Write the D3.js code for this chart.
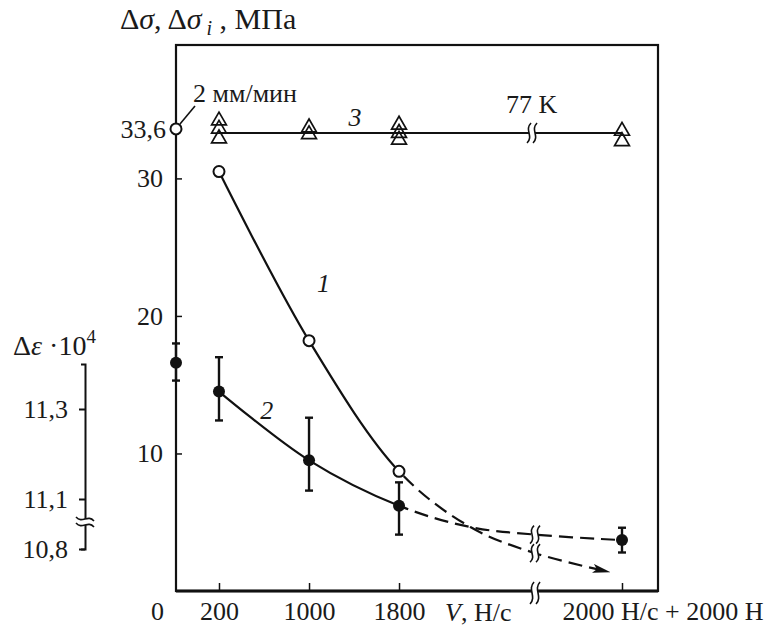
<!DOCTYPE html>
<html>
<head>
<meta charset="utf-8">
<script src="https://cdn.jsdelivr.net/npm/d3@7"></script>
<style>
  body { margin: 0; background: #fff; }
  svg, text, tspan { font-family: "Liberation Serif", serif; }
  text { font-size: 26px; fill: #1a1a1a; }
</style>
</head>
<body>
<svg></svg>
<script>
// x categories (slot 0..4), the last one is the "after break" condition
const slotLabels = ["0", "200", "1000", "1800", "2000 Н/с + 2000 Н"]
const breakSlot = 3.61

// curve 1 (open circles)
const c1Start = 33.6            // V = 0, 2 мм/мин
const c1Slots = [1, 2, 3]
const c1Values = [30.5, 18.2, 8.7]
const c1TrendSlots = [3.32, 3.61, 3.94]
const c1TrendValues = [4.65, 2.75, 1.4]

// curve 2 (filled circles + error bars)
const c2Slots = [0, 1, 2, 3, 4]
const c2Values = [16.6, 14.5, 9.5, 6.2, 3.7]
const c2Low = [15.3, 12.4, 7.3, 4.1, 2.8]
const c2High = [18.0, 17.0, 12.6, 7.9, 4.6]
const c2TrendSlots = [3.32, 3.61]
const c2TrendValues = [4.65, 4.1]

// curve 3 (triangles, 77 K)
const c3Slots = [1, 1, 1, 2, 2, 3, 3, 3, 4, 4]
const c3Values = [34.2, 33.6, 32.9, 33.7, 33.2, 33.9, 33.3, 32.8, 33.45, 32.7]
const c3Level = 33.3

const yTicks = [10, 20, 30]
const epsTicks = [10.8, 11.1, 11.3]

const width = 771,
      height = 627,
      padL = 176, padT = 45, padR = 658, padB = 591
const W = padR - padL

const svg = d3.select("svg")
  .attr("width", width)
  .attr("height", height)

const comma = d => String(d).replace(".", ",")

const x = d3.scaleLinear()
  .domain([0, 1, 2, 3, 4])
  .range([0, 0.0892, 0.276, 0.4627, 0.9253].map(f => padL + f * W))

const y = d3.scaleLinear()
  .domain([0, 39.7])
  .range([padB, padT])

// secondary axis for Δε·10^4, broken below 11,1
const y2 = d3.scaleLinear()
  .domain([10.8, 11.1, 11.4])
  .range([549, 499, 364])

const defs = svg.append("defs")
defs.append("clipPath").attr("id", "solidPart")
  .append("rect").attr("x", 0).attr("y", 0).attr("width", x(3) + 4).attr("height", height)
defs.append("clipPath").attr("id", "dashPart")
  .append("rect").attr("x", x(3) + 4).attr("y", 0).attr("width", width).attr("height", height)
defs.append("marker")
  .attr("id", "arrow")
  .attr("viewBox", "0 0 18 10")
  .attr("refX", 16).attr("refY", 5)
  .attr("markerWidth", 18).attr("markerHeight", 10)
  .attr("markerUnits", "userSpaceOnUse")
  .attr("orient", "auto")
  .append("path").attr("d", "M0,0.5L18,5L0,9.5L4,5Z").attr("fill", "#111")

// frame
svg.append("rect")
  .attr("x", padL).attr("y", padT)
  .attr("width", W).attr("height", padB - padT)
  .attr("fill", "none").attr("stroke", "#111").attr("stroke-width", 2.2)
svg.append("line")
  .attr("x1", padL).attr("x2", padR).attr("y1", padB).attr("y2", padB)
  .attr("stroke", "#111").attr("stroke-width", 3)

// left axis
const yAxis = d3.axisLeft(y).tickValues(yTicks).tickSize(-6).tickPadding(13)
const gy = svg.append("g").attr("transform", `translate(${padL},0)`).call(yAxis)
  .attr("font-family", null).attr("font-size", null)
gy.select(".domain").remove()
gy.selectAll("line").attr("stroke", "#111").attr("stroke-width", 1.5)

// bottom axis
const xAxis = d3.axisBottom(x).tickValues([0, 1, 2, 3, 4])
  .tickFormat(i => slotLabels[i]).tickSize(-8).tickPadding(11)
const gx = svg.append("g").attr("transform", `translate(0,${padB})`).call(xAxis)
  .attr("font-family", null).attr("font-size", null)
gx.select(".domain").remove()
gx.selectAll("line").attr("stroke", "#111").attr("stroke-width", 1.5)
gx.selectAll(".tick").filter(d => d === 0).select("line").remove()
gx.selectAll(".tick").filter(d => d === 0).select("text").attr("x", -19)
gx.selectAll(".tick").filter(d => d === 4).select("text").attr("text-anchor", "start").attr("x", -60)

svg.append("text").attr("x", 445).attr("y", padB + 30)
  .html('<tspan font-style="italic">V</tspan>, Н/с')

// secondary axis
const epsAxis = d3.axisLeft(y2).tickValues(epsTicks).tickSize(6).tickSizeOuter(4).tickPadding(11)
  .tickFormat(d => comma(d3.format(".1f")(d)))
const ge = svg.append("g").attr("transform", "translate(85,0)").call(epsAxis)
  .attr("font-family", null).attr("font-size", null)
ge.selectAll("path, line").attr("stroke", "#111").attr("stroke-width", 2)

svg.append("text").attr("x", 13).attr("y", 355).style("font-size", "28px")
  .html('Δ<tspan font-style="italic">ε</tspan> ·10<tspan font-size="19" dy="-12">4</tspan>')

svg.append("text").attr("x", 120).attr("y", 29).style("font-size", "30px")
  .html('Δ<tspan font-style="italic">σ</tspan>, Δ<tspan font-style="italic">σ</tspan><tspan font-style="italic" font-size="20" dy="6"> i</tspan><tspan dy="-6"> , МПа</tspan>')

// break marks: pair of S strokes across a horizontal line, or a vertical one
function breakMark(cx, cy, h, vertical) {
  const g = svg.append("g").attr("transform", `translate(${cx},${cy})` + (vertical ? " rotate(90)" : ""))
  g.append("rect").attr("x", -3).attr("y", -h / 2 + 3).attr("width", 6).attr("height", h - 6).attr("fill", "#fff")
  const s = h / 2
  ;[-3, 3].forEach(dx => {
    g.append("path")
      .attr("d", `M${dx - 2},${s} C${dx + 5},${s * 0.3} ${dx - 5},${-s * 0.3} ${dx + 2},${-s}`)
      .attr("fill", "none").attr("stroke", "#111").attr("stroke-width", 1.6)
  })
}

// curve 3 line
svg.append("line")
  .attr("x1", x(1)).attr("x2", x(4))
  .attr("y1", y(c3Level)).attr("y2", y(c3Level))
  .attr("stroke", "#111").attr("stroke-width", 2)

// smooth curves, solid up to 1800 and dashed after it
const line = d3.line().x(d => x(d[0])).y(d => y(d[1])).curve(d3.curveCatmullRom)

const c1Points = c1Slots.map((s, i) => [s, c1Values[i]])
  .concat(c1TrendSlots.map((s, i) => [s, c1TrendValues[i]]))
const c2Points = c2Slots.slice(1).map((s, i) => [s, c2Values[i + 1]])
  .concat(c2TrendSlots.map((s, i) => [s, c2TrendValues[i]]))
  .sort((a, b) => a[0] - b[0])

;[c1Points, c2Points].forEach((pts, k) => {
  svg.append("path").attr("d", line(pts))
    .attr("fill", "none").attr("stroke", "#111").attr("stroke-width", 2.2)
    .attr("clip-path", "url(#solidPart)")
  const dashed = svg.append("path").attr("d", line(pts))
    .attr("fill", "none").attr("stroke", "#111").attr("stroke-width", 2.2)
    .attr("stroke-dasharray", "14,7")
    .attr("clip-path", "url(#dashPart)")
  if (k === 0) dashed.attr("marker-end", "url(#arrow)")
})

// breaks
breakMark(x(breakSlot) - 3, y(c3Level), 20, false)
breakMark(x(breakSlot), y(c2TrendValues[1]), 18, false)
breakMark(x(breakSlot), y(c1TrendValues[1]), 18, false)
breakMark(x(breakSlot), padB + 2, 22, false)
breakMark(85, 522, 18, true)

// curve 2 error bars and points
const errs = svg.append("g").attr("stroke", "#111").attr("stroke-width", 2.4)
c2Slots.forEach((s, i) => {
  const cx = x(s)
  errs.append("line").attr("x1", cx).attr("x2", cx).attr("y1", y(c2Low[i])).attr("y2", y(c2High[i]))
  errs.append("line").attr("x1", cx - 4).attr("x2", cx + 4).attr("y1", y(c2Low[i])).attr("y2", y(c2Low[i]))
  errs.append("line").attr("x1", cx - 4).attr("x2", cx + 4).attr("y1", y(c2High[i])).attr("y2", y(c2High[i]))
})
svg.append("g").selectAll("circle")
  .data(c2Slots)
  .join("circle")
    .attr("cx", d => x(d))
    .attr("cy", (d, i) => y(c2Values[i]))
    .attr("r", 6)
    .attr("fill", "#111")

// curve 1 points
svg.append("g").selectAll("circle")
  .data([[0, c1Start]].concat(c1Points.slice(0, 3)))
  .join("circle")
    .attr("cx", d => x(d[0]))
    .attr("cy", d => y(d[1]))
    .attr("r", 5.5)
    .attr("fill", "#fff")
    .attr("stroke", "#111")
    .attr("stroke-width", 2)

// curve 3 triangles
svg.append("g").selectAll("path")
  .data(c3Slots)
  .join("path")
    .attr("transform", (d, i) => `translate(${x(d)},${y(c3Values[i])})`)
    .attr("d", d3.symbol(d3.symbolTriangle).size(95))
    .attr("fill", "none")
    .attr("stroke", "#111")
    .attr("stroke-width", 1.7)

// annotations
const sx = x(0), sy = y(c1Start)
svg.append("text").attr("x", sx - 10).attr("y", sy + 9).attr("text-anchor", "end").text(comma(c1Start))
svg.append("line").attr("x1", sx + 4).attr("y1", sy - 5).attr("x2", sx + 19).attr("y2", sy - 23)
  .attr("stroke", "#111").attr("stroke-width", 1.6)
svg.append("text").attr("x", sx + 17).attr("y", sy - 27).text("2 мм/мин")

svg.append("text").attr("x", x(3.48)).attr("y", y(34.75)).text("77 K")
svg.append("text").attr("x", x(2.16)).attr("y", y(22.4)).attr("dy", "0.35em")
  .attr("text-anchor", "middle").attr("font-style", "italic").text("1")
svg.append("text").attr("x", x(1.53)).attr("y", y(13.2)).attr("dy", "0.35em")
  .attr("text-anchor", "middle").attr("font-style", "italic").text("2")
svg.append("text").attr("x", x(2.51)).attr("y", y(34.5)).attr("dy", "0.35em")
  .attr("text-anchor", "middle").attr("font-style", "italic").text("3")
</script>
</body>
</html>
